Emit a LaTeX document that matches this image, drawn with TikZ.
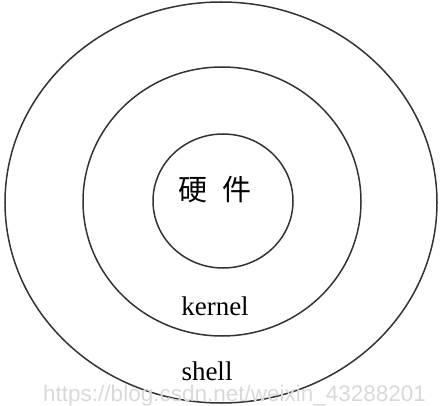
\documentclass[tikz,border=0pt]{standalone}
\usepackage{fontspec}
\setmainfont{Liberation Serif}
\newfontfamily\cjk{Noto Sans CJK SC}
\newfontfamily\wmfont{Liberation Sans}
\usepackage{xcolor}
\usepackage{tikz}
\usetikzlibrary{shapes.geometric, positioning}

\begin{document}
\begin{tikzpicture}[
    x=1pt, y=-1pt,
    ring/.style={ellipse, draw=black!80, line width=1.5pt, inner sep=0pt},
    layername/.style={anchor=base, inner sep=0pt, font=\fontsize{27}{27}\selectfont},
    hwname/.style={inner sep=0pt, font=\cjk\fontsize{29}{29}\selectfont}
]
\useasboundingbox (0,0) rectangle (444,406);

\node[ring, minimum width=432pt, minimum height=401pt] (shellring) at (221,202.5) {};
\node[ring, minimum width=278pt, minimum height=269pt] (kernelring) at (222,201.5) {};
\node[ring, minimum width=140pt, minimum height=134pt] (hwring) at (223,201) {};

\node[hwname] (hw) at (215,190) {硬\hspace{15pt}件};
\node[layername] (kernel) at (215,315) {kernel};
\node[layername, text depth=0pt] (shell) at (207,380) {shell};

\node[anchor=base west, inner sep=0pt, text height=15pt, text=black!15, font=\wmfont\fontsize{22.5}{22.5}\selectfont] (mark) at (43,401) {https://blog.csdn.net/weixin\_43288201};

\end{tikzpicture}
\end{document}
